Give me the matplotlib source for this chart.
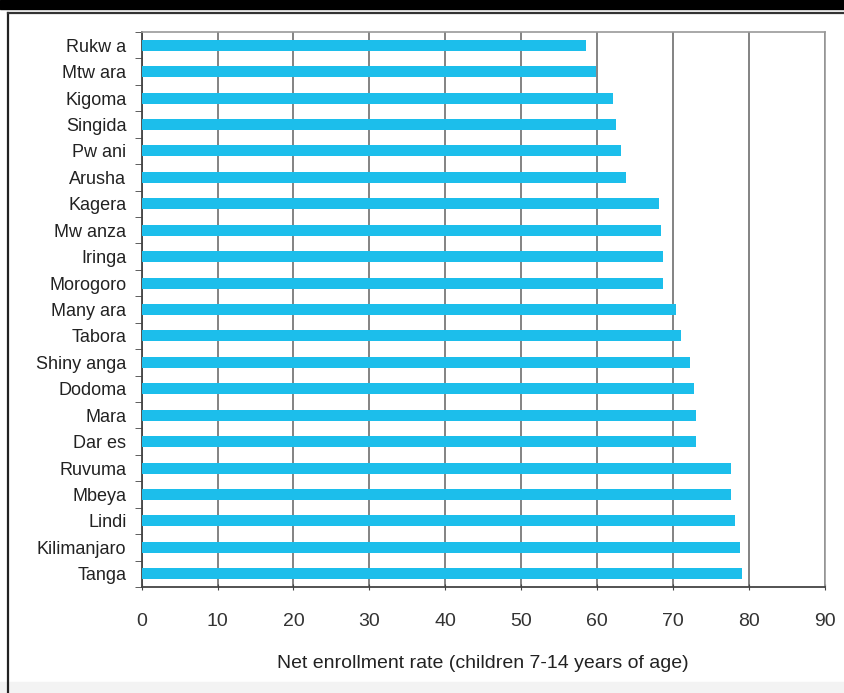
#import libraries
import matplotlib
matplotlib.use('Agg')
import matplotlib.pyplot as plt
from matplotlib.patches import Rectangle
import numpy as np

#regions, top to bottom as in the picture
regions = ['Rukw a', 'Mtw ara', 'Kigoma', 'Singida', 'Pw ani', 'Arusha', 'Kagera',
           'Mw anza', 'Iringa', 'Morogoro', 'Many ara', 'Tabora', 'Shiny anga',
           'Dodoma', 'Mara', 'Dar es', 'Ruvuma', 'Mbeya', 'Lindi', 'Kilimanjaro', 'Tanga']
#net enrollment rate (%)
rates = [58.6, 59.8, 62.1, 62.5, 63.2, 63.8, 68.2, 68.4, 68.7, 68.7, 70.4,
         71.0, 72.2, 72.8, 73.0, 73.0, 77.6, 77.6, 78.2, 78.8, 79.1]
xticks = [0, 10, 20, 30, 40, 50, 60, 70, 80, 90]

plt.rcParams['font.family'] = ['Liberation Sans', 'DejaVu Sans']

fig = plt.figure(figsize=(8.45, 6.93), dpi=100)

#outer frame like the scanned page
fig.patches.append(Rectangle((0, 1 - 9/693), 1, 9/693, transform=fig.transFigure,
                             color='black', zorder=0))
fig.patches.append(Rectangle((0, 0), 1, 11/693, transform=fig.transFigure,
                             color='#f3f3f3', zorder=0))
fig.add_artist(plt.Line2D([8/845, 8/845], [0, 1 - 13/693], transform=fig.transFigure,
                          color='#222222', lw=1.6))
fig.add_artist(plt.Line2D([8/845, 1], [1 - 13/693, 1 - 13/693], transform=fig.transFigure,
                          color='#333333', lw=1.6))

ax = fig.add_axes([141.7/845, 1 - 587/693, (824.8 - 141.7)/845, (587 - 32)/693])

y = np.arange(len(regions))
ax.barh(y, rates, height=0.42, color='#1CBEEB', zorder=3)

ax.set_xlim(0, 90)
ax.set_ylim(len(regions) - 0.5, -0.5)
ax.set_xticks(xticks)
ax.set_yticks(y)
ax.set_yticklabels(regions, fontsize=13, color='#222222')
ax.tick_params(axis='y', length=0, pad=11)
#small ticks between the categories
ax.set_yticks(np.arange(-0.5, len(regions), 1), minor=True)
ax.tick_params(axis='y', which='minor', length=5, direction='out', color='#444444')
ax.tick_params(axis='x', labelsize=14, labelcolor='#333333', length=5,
               direction='inout', color='#444444', pad=16)

ax.grid(axis='x', color='#7a7a7a', lw=1.3, zorder=0)
ax.set_axisbelow(True)

for s in ['top', 'right']:
    ax.spines[s].set_color('#999999')
    ax.spines[s].set_linewidth(1.2)
for s in ['left', 'bottom']:
    ax.spines[s].set_color('#444444')
    ax.spines[s].set_linewidth(1.3)

ax.set_xlabel('Net enrollment rate (children 7-14 years of age)', fontsize=14,
              color='#222222', labelpad=18)

plt.savefig('out.png', dpi=100)
